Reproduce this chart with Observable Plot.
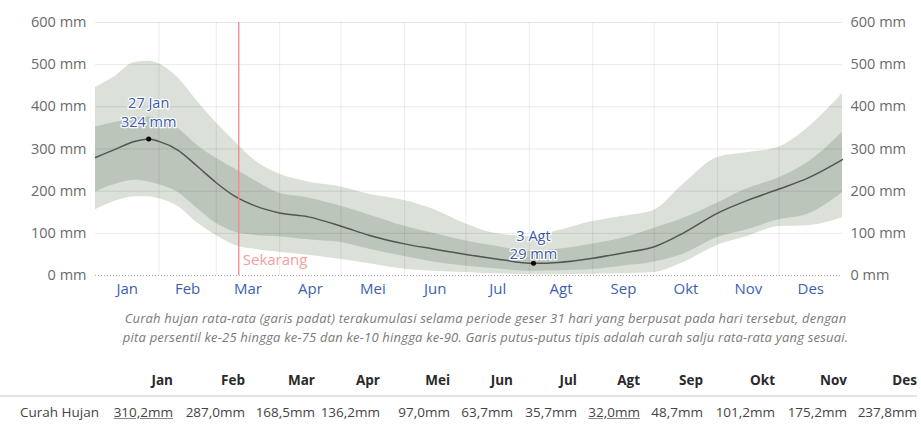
<!DOCTYPE html>
<html>
<head>
<meta charset="utf-8">
<script src="https://cdn.jsdelivr.net/npm/d3@7"></script>
<script src="https://cdn.jsdelivr.net/npm/@observablehq/plot@0.6"></script>
<style>
  html, body { margin: 0; padding: 0; background: #fff; }
  body { width: 921px; font-family: "Open Sans", sans-serif; }
  #caption { font-style: italic; color: #7a7a7a; font-size: 13px; letter-spacing: 0.2px; line-height: 19px; text-align: center; padding-left: 50px; margin-top: 9px; }
  #tbl { margin-top: 22px; margin-left: 0; border-collapse: collapse; table-layout: fixed; font-size: 13.5px; }
  #tbl th { font-weight: 700; color: #2a2a2a; text-align: right; padding: 0 0 4px 0; border-bottom: 2px solid #e4e4e4; height: 22px; }
  #tbl td { text-align: right; color: #444; padding: 6px 0 0 0; white-space: nowrap; }
  #tbl td.lbl { text-align: left; padding-left: 20px; }
  .ext { text-decoration: underline; text-decoration-color: #888; }
</style>
</head>
<body>
<div id="chart"></div>
<div id="caption">Curah hujan rata-rata (garis padat) terakumulasi selama periode geser 31 hari yang berpusat pada hari tersebut, dengan<br>pita persentil ke-25 hingga ke-75 dan ke-10 hingga ke-90. Garis putus-putus tipis adalah curah salju rata-rata yang sesuai.</div>
<table id="tbl"></table>
<script>
// ---- data ----
const months = ["Jan","Feb","Mar","Apr","Mei","Jun","Jul","Agt","Sep","Okt","Nov","Des"];
const yTicks = [0, 100, 200, 300, 400, 500, 600];
const dates = ["2023-01-01","2023-01-10","2023-01-20","2023-01-27","2023-02-01","2023-02-10","2023-02-20",
  "2023-03-01","2023-03-10","2023-03-20","2023-04-01","2023-04-15","2023-05-01","2023-05-15","2023-06-01",
  "2023-06-15","2023-07-01","2023-07-15","2023-08-03","2023-08-15","2023-09-01","2023-09-15","2023-10-01",
  "2023-10-15","2023-11-01","2023-11-15","2023-12-01","2023-12-15","2024-01-01"];
const mean = [280,298,318,324,318,298,258,220,188,165,148,139,117,95,75,63,50,40,29,31,41,53,68,100,148,177,205,231,275];
const p90  = [446,470,505,508,502,470,412,362,318,272,240,222,210,192,178,157,122,100,92,106,128,140,155,215,280,291,305,350,432];
const p75  = [352,362,372,376,370,350,308,278,253,225,195,184,164,143,117,100,82,70,57,62,75,88,112,135,172,205,232,268,340];
const p25  = [198,215,226,222,215,198,158,124,103,95,92,85,78,62,45,32,22,16,10,11,14,22,32,50,90,108,132,145,196];
const p10  = [156,175,187,187,182,165,124,95,72,62,55,48,38,28,15,10,7,4,2,2,3,4,7,30,72,92,116,118,137];
const extremes = [
  {date: "2023-01-27", value: 324, label: "27 Jan\n324 mm"},
  {date: "2023-08-03", value: 29, label: "3 Agt\n29 mm"}
];
const nowDate = "2023-03-12";
const nowLabel = "Sekarang";
const rowLabel = "Curah Hujan";
const monthlyRain = [310.2, 287.0, 168.5, 136.2, 97.0, 63.7, 35.7, 32.0, 48.7, 101.2, 175.2, 237.8];

// ---- build ----
const rows = dates.map((d, i) => ({date: new Date(d), mean: mean[i], p10: p10[i], p25: p25[i], p75: p75[i], p90: p90[i]}));
const ext = extremes.map(e => ({...e, date: new Date(e.date)}));
const monthStarts = d3.utcMonth.range(new Date("2023-01-01"), new Date("2024-01-01"));
const midMonths = monthStarts.map(m => new Date((+m + +d3.utcMonth.offset(m, 1)) / 2));
const now = new Date(nowDate);
const curve = "monotone-x";
const annot = {x: "date", y: "value", text: "label", lineAnchor: "bottom", fill: "#3a5aa8", stroke: "white", strokeWidth: 2.5, fontSize: 14.5, lineHeight: 1.27};

const chart = Plot.plot({
  width: 921, height: 300,
  marginLeft: 95, marginRight: 79, marginTop: 22, marginBottom: 25,
  x: {type: "utc", domain: [new Date("2023-01-01"), new Date("2024-01-01")]},
  y: {domain: [0, 600]},
  style: {fontFamily: "Open Sans, sans-serif", background: "white"},
  marks: [
    Plot.areaY(rows, {x: "date", y1: "p10", y2: "p90", fill: "#dbe0d9", curve}),
    Plot.areaY(rows, {x: "date", y1: "p25", y2: "p75", fill: "#bcc5ba", curve}),
    Plot.gridY(yTicks.slice(1), {stroke: "#000", strokeOpacity: 0.09}),
    Plot.gridX(monthStarts.slice(1), {stroke: "#000", strokeOpacity: 0.08}),
    Plot.ruleY([0], {stroke: "#aaa", strokeDasharray: "1,2"}),
    Plot.line(rows, {x: "date", y: "mean", stroke: "#4f574f", strokeWidth: 1.5, curve}),
    Plot.ruleX([now], {stroke: "#f08888", strokeWidth: 1.3}),
    Plot.text([now], {x: d => d, y: 0, text: () => nowLabel, textAnchor: "start", dx: 4, dy: -15, fill: "#f2a0a0", fontSize: 15}),
    Plot.dot(ext, {x: "date", y: "value", r: 2.5, fill: "#000"}),
    Plot.text(ext.slice(0, 1), {...annot, dy: -12}),
    Plot.text(ext.slice(1), {...annot, dy: -4}),
    Plot.axisY(yTicks, {anchor: "left", tickSize: 0, tickPadding: 9, tickFormat: d => `${d} mm`, fontSize: 14.5, color: "#6a6a6a"}),
    Plot.axisY(yTicks, {anchor: "right", tickSize: 0, tickPadding: 8, tickFormat: d => `${d} mm`, fontSize: 14.5, color: "#6a6a6a"}),
    Plot.axisX(midMonths, {tickSize: 0, tickPadding: 8, tickFormat: d => months[d.getUTCMonth()], fontSize: 15, color: "#3d5fb0"})
  ]
});
document.getElementById("chart").appendChild(chart);

// ---- table ----
const colW = [103, 70, 72, 70, 65, 70, 63, 64, 63, 63, 72, 72, 70];
const maxV = d3.max(monthlyRain), minV = d3.min(monthlyRain);
const fmt = v => v.toFixed(1).replace(".", ",") + "mm";
const tbl = document.getElementById("tbl");
let html = "<colgroup>" + colW.map(w => `<col style="width:${w}px">`).join("") + "</colgroup>";
html += `<tr><th class="lbl"></th>` + months.map(m => `<th>${m}</th>`).join("") + "</tr>";
html += `<tr><td class="lbl">${rowLabel}</td>` + monthlyRain.map(v => `<td><span class="${v === maxV || v === minV ? "ext" : ""}">${fmt(v)}</span></td>`).join("") + "</tr>";
tbl.innerHTML = html;
tbl.style.width = d3.sum(colW) + "px";
</script>
</body>
</html>
